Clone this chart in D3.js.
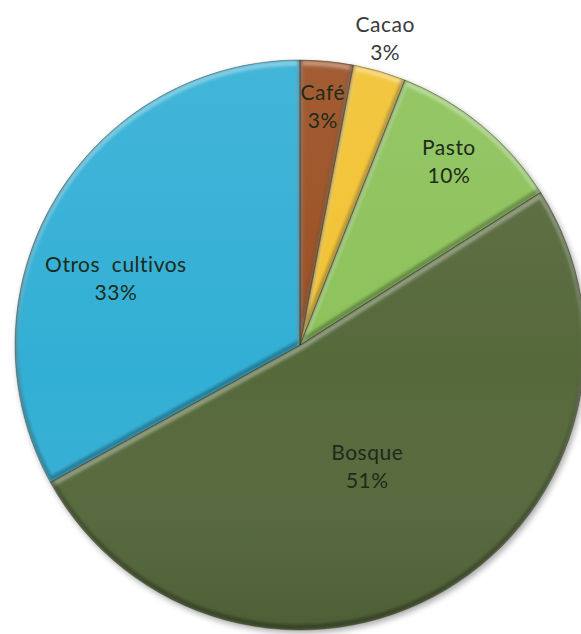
<!DOCTYPE html>
<html>
<head>
<meta charset="utf-8">
<script src="https://cdn.jsdelivr.net/npm/d3@7/dist/d3.min.js"></script>
<style>
  html, body { margin: 0; padding: 0; background: #fff; }
  svg { display: block; }
</style>
</head>
<body>
<svg id="chart" width="581" height="634"></svg>
<script>
// Land use shares (percent), clockwise from twelve o'clock
const categories = ["Café", "Cacao", "Pasto", "Bosque", "Otros cultivos"];
const shares = [3, 3, 10, 51, 33];
const colors = ["#9b4f22", "#f2c232", "#8cc25a", "#56693a", "#31afd5"];
// Label placement: distance from the centre (fraction of radius) and angular nudge (radians)
const labelRadius = [0.85, 1.125, 0.836, 0.48, 0.69];
const labelAngleShift = [0, -0.014, -0.016, 0.02, -0.175];

const svg = d3.select("#chart");
const cx = 300, cy = 345, R = 285;

const defs = svg.append("defs");
const shadow = defs.append("filter").attr("id", "shadow")
  .attr("x", "-10%").attr("y", "-10%").attr("width", "120%").attr("height", "120%");
shadow.append("feGaussianBlur").attr("in", "SourceAlpha").attr("stdDeviation", 3);
shadow.append("feOffset").attr("dx", 2).attr("dy", 3).attr("result", "b");
shadow.append("feComponentTransfer").append("feFuncA").attr("type", "linear").attr("slope", 0.35);
const merge = shadow.append("feMerge");
merge.append("feMergeNode");
merge.append("feMergeNode").attr("in", "SourceGraphic");

const soft = defs.append("filter").attr("id", "soft");
soft.append("feGaussianBlur").attr("stdDeviation", 1.6);

const shade = defs.append("linearGradient").attr("id", "shade")
  .attr("x1", 0).attr("y1", 0).attr("x2", 0).attr("y2", 1);
shade.append("stop").attr("offset", "0%").attr("stop-color", "#fff").attr("stop-opacity", 0.08);
shade.append("stop").attr("offset", "55%").attr("stop-color", "#fff").attr("stop-opacity", 0);
shade.append("stop").attr("offset", "100%").attr("stop-color", "#000").attr("stop-opacity", 0.1);

const pie = d3.pie().sort(null).value(d => d.v);
const data = categories.map((c, i) => ({ c, v: shares[i], i }));
const arcs = pie(data);
const arc = d3.arc().innerRadius(0).outerRadius(R);

const g = svg.append("g").attr("transform", `translate(${cx},${cy})`);

// Clip paths so the bevel highlights stay inside each slice
arcs.forEach((a, i) => {
  defs.append("clipPath").attr("id", "clip" + i).append("path").attr("d", arc(a));
});

const base = g.append("g").attr("filter", "url(#shadow)");
base.selectAll("path.slice").data(arcs).join("path")
  .attr("class", "slice")
  .attr("d", arc)
  .attr("fill", d => colors[d.index]);

// Bevel: light rim on upward-facing edges, dark rim on downward-facing ones
arcs.forEach((a, i) => {
  const bg = g.append("g").attr("clip-path", `url(#clip${i})`);
  bg.append("path").attr("d", arc(a))
    .attr("transform", "translate(0,3)")
    .attr("fill", "none").attr("stroke", "#fff").attr("stroke-opacity", 0.35)
    .attr("stroke-width", 5).attr("filter", "url(#soft)");
  bg.append("path").attr("d", arc(a))
    .attr("transform", "translate(0,-3)")
    .attr("fill", "none").attr("stroke", "#000").attr("stroke-opacity", 0.3)
    .attr("stroke-width", 5).attr("filter", "url(#soft)");
});

g.append("circle").attr("r", R).attr("fill", "url(#shade)");

g.selectAll("path.edge").data(arcs).join("path")
  .attr("class", "edge")
  .attr("d", arc)
  .attr("fill", "none")
  .attr("stroke", "#2a2a1a").attr("stroke-opacity", 0.45).attr("stroke-width", 0.8);

// Labels: name and rounded share
const labels = g.selectAll("text.lbl").data(arcs).join("text")
  .attr("class", "lbl")
  .attr("font-family", "Lato, 'Open Sans', sans-serif")
  .attr("font-size", 21)
  .attr("letter-spacing", 0.5)
  .attr("fill", d => d.index === 1 ? "#3a3a3a" : "#1e2a1a")
  .attr("text-anchor", "middle")
  .attr("transform", d => {
    const ang = (d.startAngle + d.endAngle) / 2 + labelAngleShift[d.index];
    const r = R * labelRadius[d.index];
    return `translate(${r * Math.sin(ang)},${-r * Math.cos(ang)})`;
  });
labels.append("tspan").attr("x", 0).attr("dy", -4)
  .attr("xml:space", "preserve")
  .text(d => d.data.c.replace(" ", "  "));
labels.append("tspan").attr("x", 0).attr("dy", 28)
  .text(d => d3.format(".0f")(d.data.v) + "%");
</script>
</body>
</html>
